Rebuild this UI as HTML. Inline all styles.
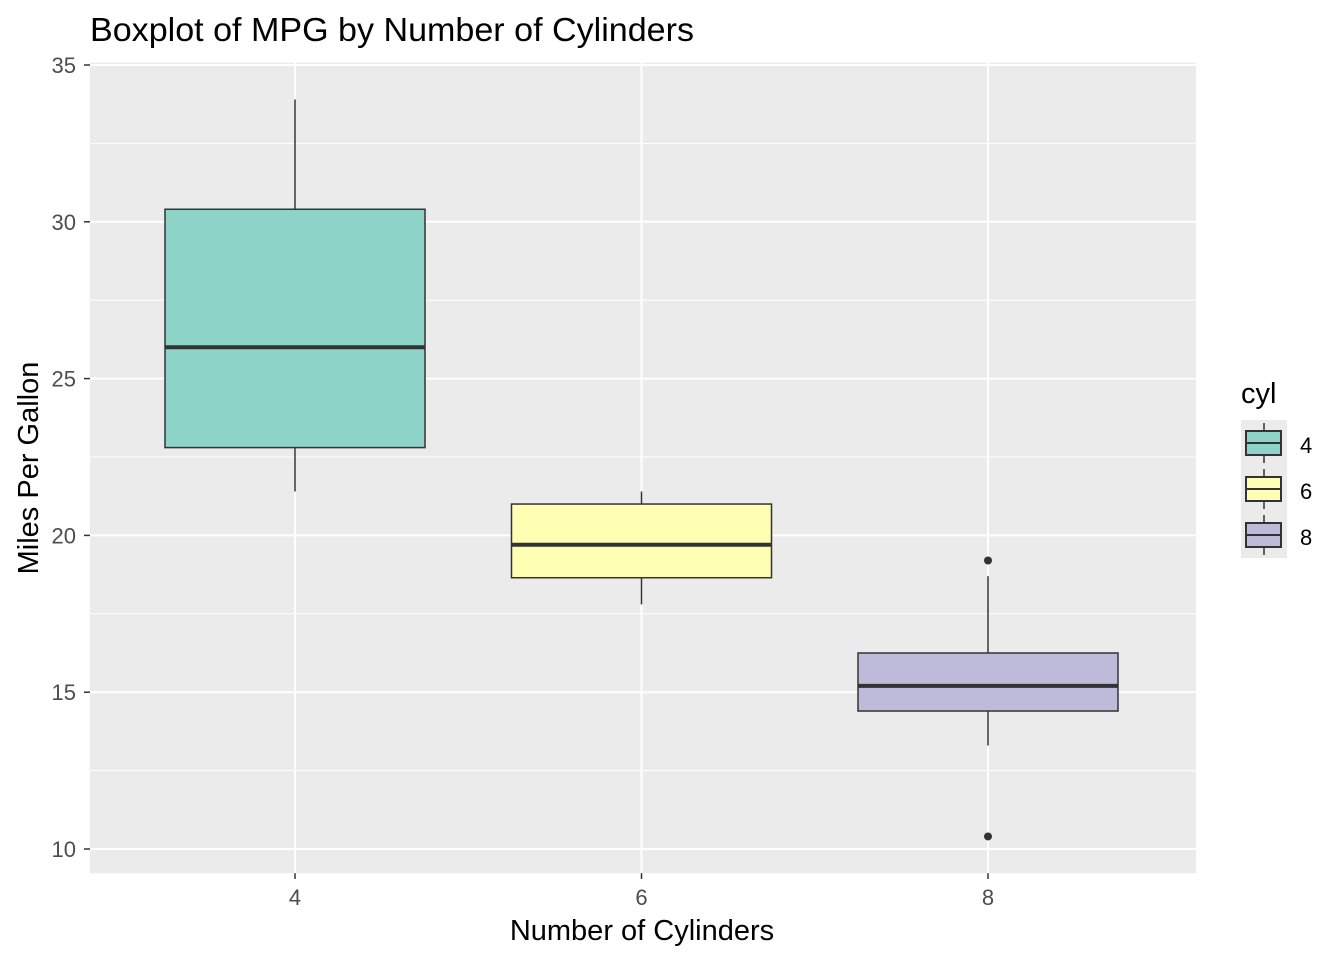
<!DOCTYPE html>
<html><head><meta charset="utf-8"><style>
body{margin:0;background:#fff;}
svg text{font-family:"Liberation Sans",Arial,sans-serif;}
</style></head><body>
<svg id="c" width="1344" height="960" xmlns="http://www.w3.org/2000/svg">
<text x="90" y="41" font-size="33" fill="#000" textLength="604" lengthAdjust="spacingAndGlyphs">Boxplot of MPG by Number of Cylinders</text>
<rect x="90" y="62.6" width="1106" height="810.6" fill="#EBEBEB"/>
<g id="grid"></g><g id="boxes"></g><g id="axes"></g>
<text x="642" y="940" font-size="29" text-anchor="middle" fill="#000">Number of Cylinders</text>
<text transform="translate(38,468) rotate(-90)" font-size="29" text-anchor="middle" fill="#000">Miles Per Gallon</text>
<text x="1241" y="403" font-size="29" fill="#000">cyl</text>
<rect x="1241" y="420" width="46" height="138" fill="#EBEBEB"/>
<g id="legend"></g>
</svg>
<script>
const categories=["4","6","8"];
const mins=[21.4,17.8,13.3];
const q1s=[22.8,18.65,14.4];
const medians=[26.0,19.7,15.2];
const q3s=[30.4,21.0,16.25];
const maxs=[33.9,21.4,18.7];
const outliers=[[],[],[10.4,19.2]];
const colors=["#8DD3C7","#FFFFB3","#BEBADA"];
const yTicks=[10,15,20,25,30,35];
const NS="http://www.w3.org/2000/svg";
function y(v){return 849-(v-10)*31.36;}
function x(i){return 295+i*346.5;}
function mk(p,tag,a){const e=document.createElementNS(NS,tag);for(const k in a)e.setAttribute(k,a[k]);p.appendChild(e);return e;}
const grid=document.getElementById('grid'),ax=document.getElementById('axes'),bx=document.getElementById('boxes'),lg=document.getElementById('legend');
for(let t=0;t<yTicks.length-1;t++){const m=(yTicks[t]+yTicks[t+1])/2;const l=mk(grid,'line',{x1:90,x2:1196,y1:y(m),y2:y(m),stroke:'#fff','stroke-width':1});

}
yTicks.forEach(v=>{const l=mk(grid,'line',{x1:90,x2:1196,y1:y(v),y2:y(v),stroke:'#fff','stroke-width':2});


const tk=mk(ax,'line',{x1:84,x2:90,y1:y(v),y2:y(v),stroke:'#333','stroke-width':1.5});


const tx=mk(ax,'text',{x:76,y:y(v)+8,'font-size':22,'text-anchor':'end',fill:'#4D4D4D'});tx.textContent=v;

});
categories.forEach((c,i)=>{const cx=x(i);
const g=mk(grid,'line',{x1:cx,x2:cx,y1:62.6,y2:873.2,stroke:'#fff','stroke-width':2});


const tk=mk(ax,'line',{x1:cx,x2:cx,y1:873.2,y2:879,stroke:'#333','stroke-width':1.5});


const tx=mk(ax,'text',{x:cx,y:905,'font-size':22,'text-anchor':'middle',fill:'#4D4D4D'});tx.textContent=c;


const w=130;
const wh=mk(bx,'line',{x1:cx,x2:cx,y1:y(q3s[i]),y2:y(maxs[i]),stroke:'#333','stroke-width':1.5});


const wl=mk(bx,'line',{x1:cx,x2:cx,y1:y(q1s[i]),y2:y(mins[i]),stroke:'#333','stroke-width':1.5});


const r=mk(bx,'rect',{x:cx-w,y:y(q3s[i]),width:2*w,height:y(q1s[i])-y(q3s[i]),fill:colors[i],stroke:'#333','stroke-width':1.5});


const md=mk(bx,'line',{x1:cx-w,x2:cx+w,y1:y(medians[i]),y2:y(medians[i]),stroke:'#333','stroke-width':4});


outliers[i].forEach(o=>{const p=mk(bx,'circle',{cx:cx,cy:y(o),r:4,fill:'#333'});

});
const ky=420+i*46;
const kg=mk(lg,'g',{});


mk(kg,'line',{x1:1264,x2:1264,y1:ky+3,y2:ky+43,stroke:'#333','stroke-width':1.5});
mk(kg,'rect',{x:1246,y:ky+11,width:35,height:24,fill:colors[i],stroke:'#333','stroke-width':2});
mk(kg,'line',{x1:1246,x2:1281,y1:ky+23,y2:ky+23,stroke:'#333','stroke-width':2});
const lt=mk(kg,'text',{x:1300,y:ky+33,'font-size':22,fill:'#000'});lt.textContent=c;
});
</script>
</body></html>
